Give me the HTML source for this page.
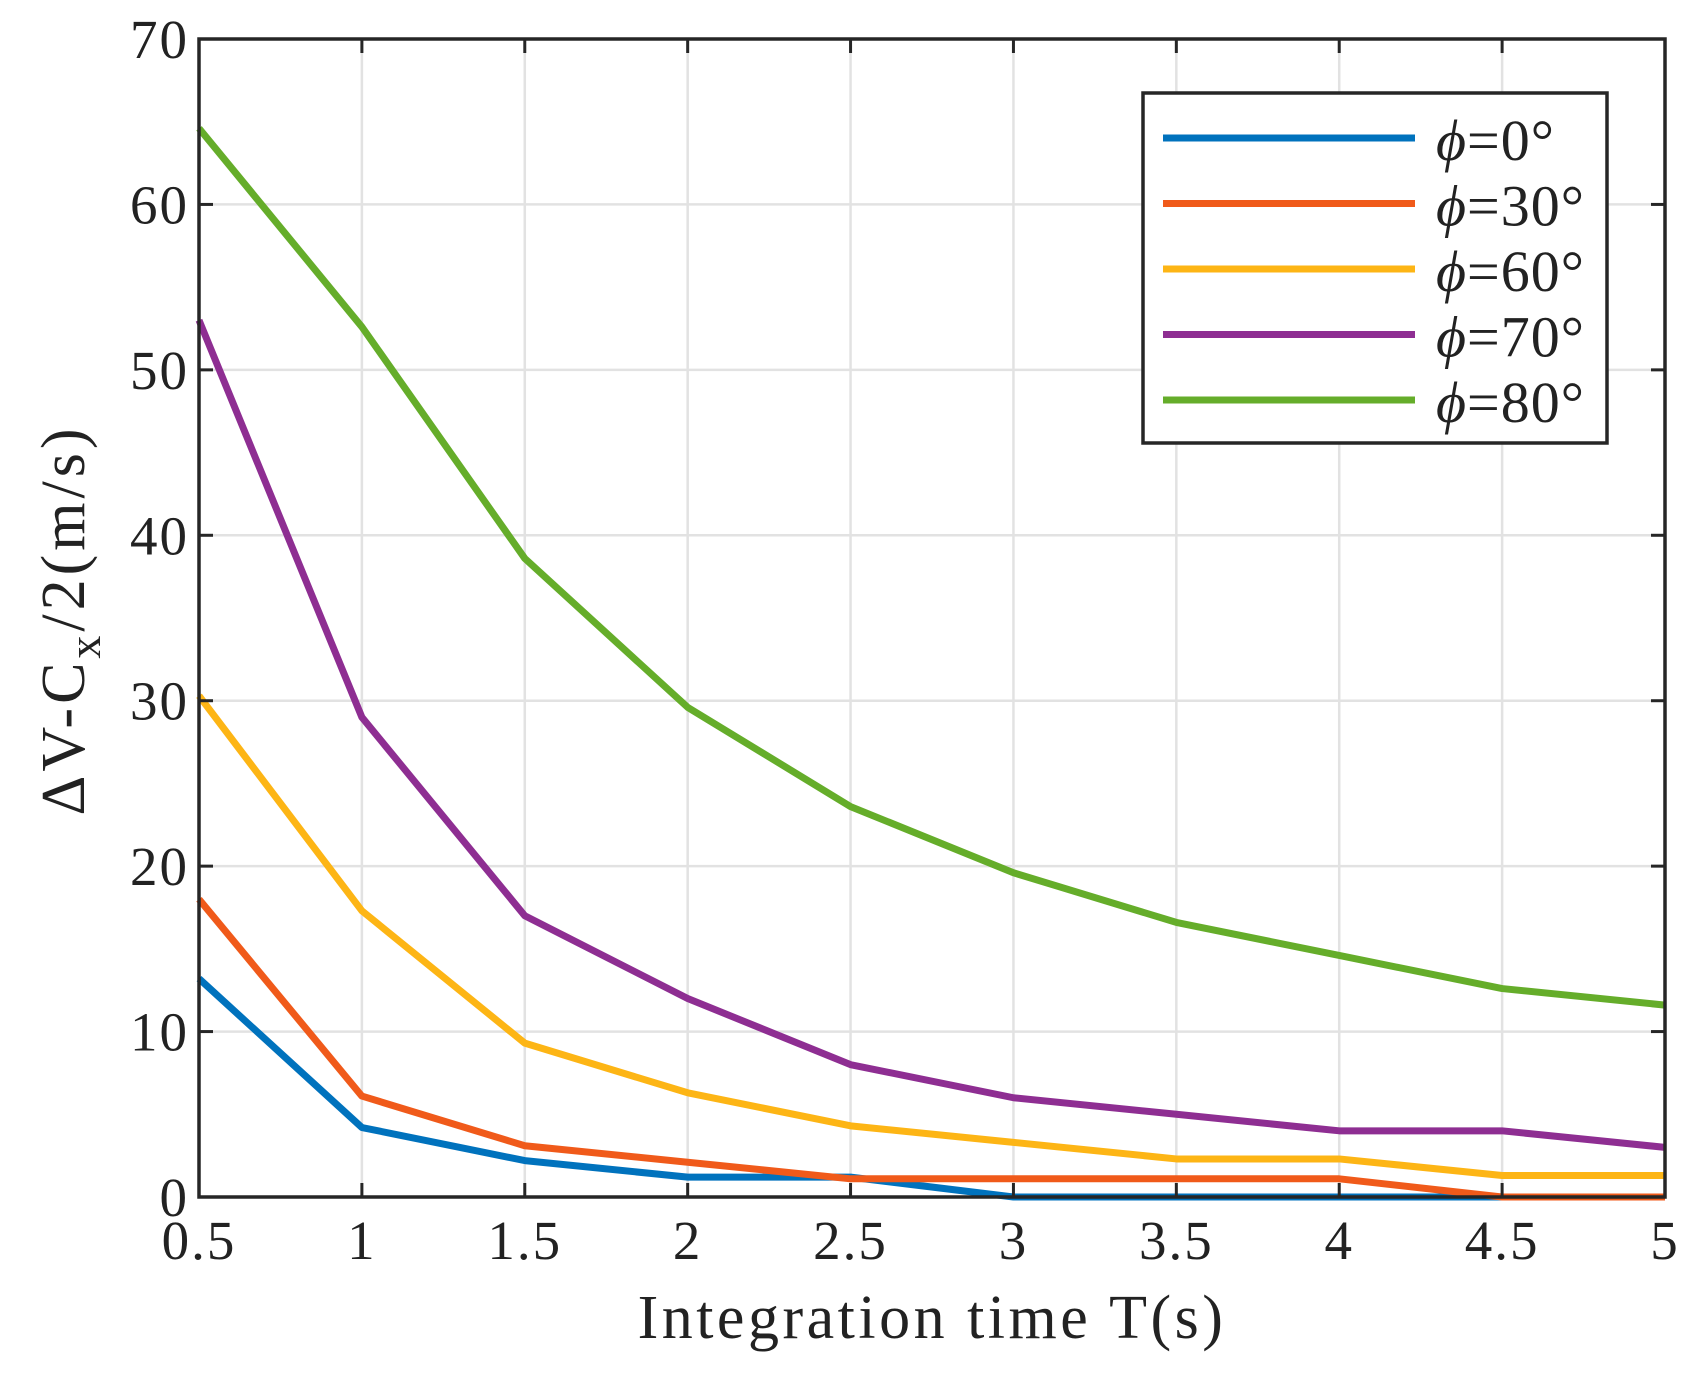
<!DOCTYPE html>
<html><head><meta charset="utf-8"><style>
html,body{margin:0;padding:0;background:#fff;}
svg{display:block;font-family:"Liberation Serif","DejaVu Serif",serif;}
</style></head><body>
<svg id="chart" width="1706" height="1379" viewBox="0 0 1706 1379" xmlns="http://www.w3.org/2000/svg">
<g id="grid"></g>
<g id="series"></g>
<g id="axes"></g>
<text x="932" y="1338" font-size="62" letter-spacing="3.5" text-anchor="middle" fill="#222">Integration time T(s)</text>
<text transform="translate(84,620) rotate(-90)" font-size="62" letter-spacing="4" text-anchor="middle" fill="#222">ΔV-C<tspan font-size="46" dy="16">x</tspan><tspan dy="-16">/2(m/s)</tspan></text>
<g id="legend"></g>
</svg>
<script>
const categories=[0.5,1,1.5,2,2.5,3,3.5,4,4.5,5];
const xTickLabels=["0.5","1","1.5","2","2.5","3","3.5","4","4.5","5"];
const yTicks=[0,10,20,30,40,50,60,70];
const seriesNames=["=0°","=30°","=60°","=70°","=80°"];
const seriesColors=["#0072BD","#F05A1A","#FDB515","#8E2E92","#65AD2A"];
const phi0=[13.2,4.2,2.2,1.2,1.2,0,0,0,0,0];
const phi30=[18,6.1,3.1,2.1,1.1,1.1,1.1,1.1,0,0];
const phi60=[30.3,17.3,9.3,6.3,4.3,3.3,2.3,2.3,1.3,1.3];
const phi70=[53,29,17,12,8,6,5,4,4,3];
const phi80=[64.6,52.6,38.6,29.6,23.6,19.6,16.6,14.6,12.6,11.6];
const seriesData=[phi0,phi30,phi60,phi70,phi80];
const L=199,R=1665,T=39,B=1197;
const NS="http://www.w3.org/2000/svg";
function xs(v){return L+(v-0.5)/4.5*(R-L);}
function ys(v){return B-v/70*(B-T);}
function mk(tag,attrs,parent){const e=document.createElementNS(NS,tag);for(const k in attrs)e.setAttribute(k,attrs[k]);parent.appendChild(e);return e;}
const grid=document.getElementById('grid'),axes=document.getElementById('axes'),ser=document.getElementById('series'),leg=document.getElementById('legend');
categories.forEach((c,i)=>{
  const g=mk('line',{x1:xs(c),x2:xs(c),y1:T,y2:B,stroke:'#e2e2e2','stroke-width':2.5},grid);
  
  
  const t1=mk('line',{x1:xs(c),x2:xs(c),y1:B,y2:B-14,stroke:'#262626','stroke-width':3},axes);
  
  
  const t2=mk('line',{x1:xs(c),x2:xs(c),y1:T,y2:T+14,stroke:'#262626','stroke-width':3},axes);
  
  
  const tx=mk('text',{x:xs(c),y:B+62,'font-size':55,'letter-spacing':2,'text-anchor':'middle',fill:'#222'},axes);
  tx.textContent=xTickLabels[i];
  
  
});
yTicks.forEach(v=>{
  const g=mk('line',{x1:L,x2:R,y1:ys(v),y2:ys(v),stroke:'#e2e2e2','stroke-width':2.5},grid);
  
  
  const t1=mk('line',{x1:L,x2:L+14,y1:ys(v),y2:ys(v),stroke:'#262626','stroke-width':3},axes);
  
  
  const t2=mk('line',{x1:R,x2:R-14,y1:ys(v),y2:ys(v),stroke:'#262626','stroke-width':3},axes);
  
  
  const tx=mk('text',{x:L-10,y:ys(v)+19,'font-size':55,'letter-spacing':2,'text-anchor':'end',fill:'#222'},axes);
  tx.textContent=String(v);
  
  
});
const frame=mk('rect',{x:L,y:T,width:R-L,height:B-T,fill:'none',stroke:'#262626','stroke-width':3.5},axes);


seriesData.forEach((d,si)=>{
  const pts=d.map((v,i)=>xs(categories[i])+','+ys(v)).join(' ');
  const p=mk('polyline',{points:pts,fill:'none',stroke:seriesColors[si],'stroke-width':7,'stroke-linejoin':'round'},ser);
  
  
});
const lb=mk('rect',{x:1143,y:93,width:464,height:350,fill:'#fff',stroke:'#262626','stroke-width':3.5},leg);


seriesNames.forEach((n,i)=>{
  const y=138+i*65.5;
  const ln=mk('line',{x1:1163,x2:1415,y1:y,y2:y,stroke:seriesColors[i],'stroke-width':7},leg);
  
  
  const tx=mk('text',{x:1436,y:y+22,'font-size':58,'letter-spacing':1,fill:'#222'},leg);
  const ph=mk('tspan',{'font-style':'italic'},tx);
  ph.textContent='\u03D5';
  const rest=mk('tspan',{},tx);
  rest.textContent=n;
  
  
});
</script>
</body></html>
